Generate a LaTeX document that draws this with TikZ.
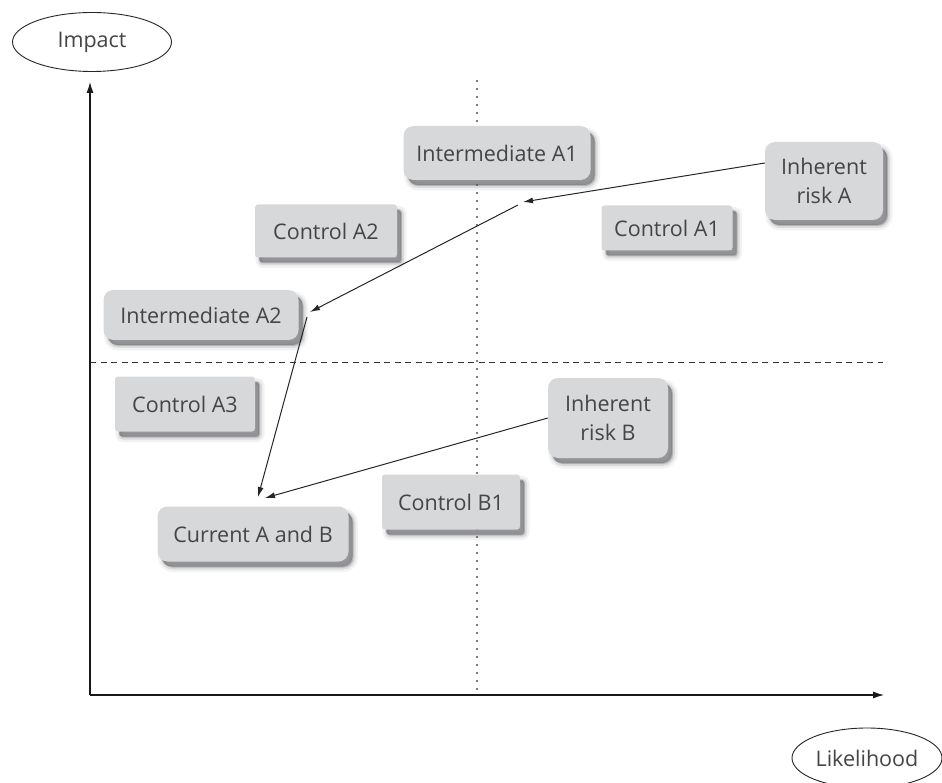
\documentclass[tikz,border=0pt]{standalone}
\usepackage{fontspec}
\setmainfont{Open Sans}
\usetikzlibrary{shadows,arrows.meta,shapes.geometric}
\definecolor{boxgray}{HTML}{D7D8DA}
\definecolor{txtgray}{HTML}{454545}
\definecolor{shadegray}{HTML}{55565A}
\begin{document}
\begin{tikzpicture}[x=1pt,y=-1pt,
  label/.style={font=\fontsize{21.5}{29}\selectfont, text=txtgray},
  % soft shadow built from three stacked layers
  softshadow/.style={
    drop shadow={shadow xshift=5pt, shadow yshift=-6pt, fill=shadegray, fill opacity=0.12,
                 draw=shadegray, draw opacity=0.08, line width=9pt},
    drop shadow={shadow xshift=5pt, shadow yshift=-6pt, fill=shadegray, fill opacity=0.2,
                 draw=shadegray, draw opacity=0.15, line width=4pt},
    drop shadow={shadow xshift=4pt, shadow yshift=-5pt, fill=shadegray, fill opacity=0.45}},
  card/.style={label, fill=boxgray, rounded corners=10pt, align=center, inner sep=0pt, softshadow},
  ctrl/.style={card, rounded corners=3pt},
  axislabel/.style={label, ellipse, draw=black!85, line width=0.9pt, fill=white, inner sep=0pt},
  axis/.style={line width=1.1pt, black!90, -{Latex[length=11pt,width=7pt]}},
  move/.style={line width=1pt, black!85, -{Latex[length=10pt,width=6pt]}}
]
\useasboundingbox (0,0) rectangle (942,783);

% quadrant guides
\draw[black!50, line width=2.3pt, dash pattern=on 2.3pt off 5.7pt] (477,80) -- (477,695);
\draw[black!80, line width=0.9pt, dash pattern=on 6pt off 4.5pt] (90,362) -- (883,362);

% axes
\coordinate (origin) at (90,695);
\coordinate (ytop) at (90,82);
\coordinate (xend) at (884,695);
\draw[axis] (origin) -- (ytop);
\draw[axis] (origin) -- (xend);

% axis labels
\node[axislabel, minimum width=159pt, minimum height=59pt] (impact) at (92,42) {Impact};
\node[axislabel, minimum width=150pt, minimum height=60pt] (likelihood) at (867,758) {Likelihood};

% risk positions and controls
\node[card, minimum width=187pt, minimum height=54pt] (intA1) at (497,153) {Intermediate A1};
\node[card, minimum width=118pt, minimum height=78pt] (inhA) at (824,181) {Inherent\\risk A};
\node[ctrl, minimum width=131pt, minimum height=45pt] (ctrlA1) at (667,228) {Control A1};
\node[ctrl, minimum width=142pt, minimum height=53pt] (ctrlA2) at (326,231) {Control A2};
\node[card, minimum width=195pt, minimum height=50pt] (intA2) at (201,315) {Intermediate A2};
\node[ctrl, minimum width=140pt, minimum height=55pt] (ctrlA3) at (185,404) {Control A3};
\node[card, minimum width=120pt, minimum height=80pt] (inhB) at (608,418) {Inherent\\risk B};
\node[ctrl, minimum width=138pt, minimum height=55pt] (ctrlB1) at (451,502) {Control B1};
\node[card, minimum width=191pt, minimum height=55pt] (cur) at (253,534) {Current A and B};

% path of risk A and risk B
\coordinate (pA1) at (523,202);
\coordinate (pA1b) at (518,205);
\coordinate (pA2) at (310,312);
\coordinate (pA2b) at (307,317);
\coordinate (pCurA) at (258,497);
\coordinate (pCurB) at (265,498);
\draw[move] (inhA.west |- 0,163) -- (pA1);
\draw[move] (pA1b) -- (pA2);
\draw[move] (pA2b) -- (pCurA);
\draw[move] (inhB.west |- 0,418) -- (pCurB);
\end{tikzpicture}
\end{document}
